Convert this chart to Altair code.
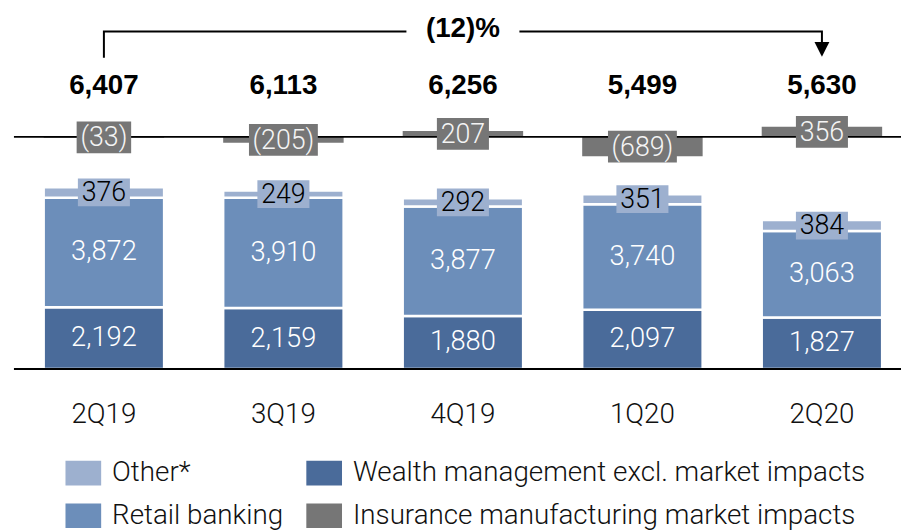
import altair as alt
import pandas as pd

# ---------------- data ----------------
quarters = ["2Q19", "3Q19", "4Q19", "1Q20", "2Q20"]
wealth = [2192, 2159, 1880, 2097, 1827]
retail = [3872, 3910, 3877, 3740, 3063]
other = [376, 249, 292, 351, 384]
insurance = [-33, -205, 207, -689, 356]
totals = [6407, 6113, 6256, 5499, 5630]
change_label = "(12)%"

S_OTHER = "Other*"
S_WEALTH = "Wealth management excl. market impacts"
S_RETAIL = "Retail banking"
S_INS = "Insurance manufacturing market impacts"
# legend is filled column by column: column 1 = Other*, Retail; column 2 = Wealth, Insurance
legend_order = [S_OTHER, S_RETAIL, S_WEALTH, S_INS]
colors = ["#9db0cf", "#6c8eba", "#4a6b9a", "#767676"]

# ---------------- layout ----------------
W, H = 895, 362
YMAX = 12700
PXU = H / YMAX            # pixels per unit
INS_BASE = 8220           # level of the market-impact line
TOTAL_Y = 9754
BRACKET_TOP = 11954
BRACKET_LEFT_END = 11018
ARROW_Y = 11316
CHANGE_Y = 11754

LIGHT = "Roboto"
BOLD = "Liberation Sans"


def fmt(v):
    return f"({abs(v):,})" if v < 0 else f"{v:,}"


def box_w(s):
    d = sum(c.isdigit() for c in s)
    p = sum(c in "()" for c in s)
    return d * 14.5 + p * 8.5 + 9


seg_rows = []
for i, q in enumerate(quarters):
    base = 0
    for name, arr in [(S_WEALTH, wealth), (S_RETAIL, retail), (S_OTHER, other)]:
        v = arr[i]
        seg_rows.append(dict(quarter=q, series=name, value=v, y0=base, y1=base + v,
                             mid=base + v / 2, label=fmt(v)))
        base += v
seg = pd.DataFrame(seg_rows)
inner = seg[seg.series != S_OTHER].copy()
oth = seg[seg.series == S_OTHER].copy()
oth["bw"] = oth.label.map(box_w)
oth["b0"] = oth.mid - 14 / PXU
oth["b1"] = oth.mid + 14 / PXU

ins = pd.DataFrame(dict(quarter=quarters, value=insurance))
ins["series"] = S_INS
ins["y0"] = INS_BASE
ins["y1"] = INS_BASE + ins.value
ins["mid"] = INS_BASE + ins.value / 2
ins["label"] = ins.value.map(fmt)
ins["bw"] = ins.label.map(box_w)
ins["b0"] = ins.mid - 16 / PXU
ins["b1"] = ins.mid + 16 / PXU

tot = pd.DataFrame(dict(quarter=quarters, total=totals))
tot["label"] = tot.total.map(lambda v: f"{v:,}")
tot["y"] = TOTAL_Y

rules = pd.DataFrame(dict(y=[0, INS_BASE]))

bracket = pd.DataFrame(dict(
    quarter=[quarters[0], quarters[0], quarters[-1], quarters[-1]],
    y=[BRACKET_LEFT_END, BRACKET_TOP, BRACKET_TOP, ARROW_Y],
    o=[0, 1, 2, 3]))
chg = pd.DataFrame(dict(quarter=[quarters[2]], label=[change_label], y=[CHANGE_Y],
                        b0=[BRACKET_TOP - 10 / PXU], b1=[BRACKET_TOP + 11 / PXU]))
arrow = pd.DataFrame(dict(quarter=[quarters[-1]], y=[ARROW_Y]))

# ---------------- encodings ----------------
xscale = alt.Scale(domain=quarters, paddingInner=0.329, paddingOuter=0.1353, align=0.612)
xaxis = alt.Axis(title=None, domain=False, ticks=False, grid=False, labelAngle=0,
                 labelFont=LIGHT, labelFontWeight=300, labelFontSize=28,
                 labelColor="#111111", labelPadding=32)
yscale = alt.Scale(domain=[0, YMAX], nice=False, zero=True)


def X():
    return alt.X("quarter:N", scale=xscale, axis=xaxis, sort=quarters)


def Y(f):
    return alt.Y(f, scale=yscale, axis=None)


color = alt.Color("series:N", scale=alt.Scale(domain=legend_order, range=colors),
                  legend=alt.Legend(orient="none", legendX=52, legendY=449, columns=2,
                                    title=None, padding=0,
                                    symbolType="M-1,-0.69L1,-0.69L1,0.69L-1,0.69Z",
                                    symbolSize=1296, symbolStrokeWidth=0, symbolOpacity=1,
                                    labelFont=LIGHT, labelFontWeight=300, labelFontSize=28,
                                    labelColor="#111111", labelOffset=11, labelLimit=800,
                                    columnPadding=23, rowPadding=11))

bars = alt.Chart(seg).mark_bar(stroke="white", strokeWidth=2.5).encode(
    x=X(), y=Y("y0:Q"), y2="y1:Q", color=color)
ins_bars = alt.Chart(ins).mark_bar().encode(
    x=X(), y=Y("y0:Q"), y2="y1:Q", color=color)
lines = alt.Chart(rules).mark_rule(color="black", strokeWidth=2).encode(y=Y("y:Q"))

inner_txt = alt.Chart(inner).mark_text(font=LIGHT, fontWeight=300, fontSize=27.5,
                                       color="white", baseline="middle").encode(
    x=X(), y=Y("mid:Q"), text="label:N")

oth_box = alt.Chart(oth).mark_bar(color="#9db0cf").encode(
    x=X(), y=Y("b0:Q"), y2="b1:Q", size=alt.Size("bw:Q", scale=None, legend=None))
oth_txt = alt.Chart(oth).mark_text(font=LIGHT, fontWeight=300, fontSize=27,
                                   color="black", baseline="middle", dy=1).encode(
    x=X(), y=Y("mid:Q"), text="label:N")

ins_box = alt.Chart(ins).mark_bar(color="#767676").encode(
    x=X(), y=Y("b0:Q"), y2="b1:Q", size=alt.Size("bw:Q", scale=None, legend=None))
ins_txt = alt.Chart(ins).mark_text(font=LIGHT, fontWeight=300, fontSize=27,
                                   color="#f4f4f4", baseline="middle", dy=1).encode(
    x=X(), y=Y("mid:Q"), text="label:N")

tot_txt = alt.Chart(tot).mark_text(font=BOLD, fontWeight="bold", fontSize=28,
                                   color="black", baseline="alphabetic").encode(
    x=X(), y=Y("y:Q"), text="label:N")

br = alt.Chart(bracket).mark_line(color="black", strokeWidth=2).encode(
    x=X(), y=Y("y:Q"), order="o:Q")
chg_box = alt.Chart(chg).mark_bar(color="white").encode(
    x=X(), y=Y("b0:Q"), y2="b1:Q", size=alt.value(114))
chg_txt = alt.Chart(chg).mark_text(font=BOLD, fontWeight="bold", fontSize=28,
                                   color="black", baseline="alphabetic").encode(
    x=X(), y=Y("y:Q"), text="label:N")
arr = alt.Chart(arrow).mark_point(shape="M-1,-1L1,-1L0,1Z", filled=True, color="black",
                                  size=225, opacity=1).encode(x=X(), y=Y("y:Q"))

chart = alt.layer(
    bars, ins_bars, lines, inner_txt, oth_box, oth_txt, ins_box, ins_txt,
    tot_txt, br, chg_box, chg_txt, arr
).properties(
    width=W, height=H,
    padding={"left": 6, "right": 0, "top": 0, "bottom": 160},
    autosize=alt.AutoSizeParams(type="none"),
    background="white",
).configure_view(stroke=None)

chart.save("out.html", embed_options={"renderer": "svg", "actions": False})
